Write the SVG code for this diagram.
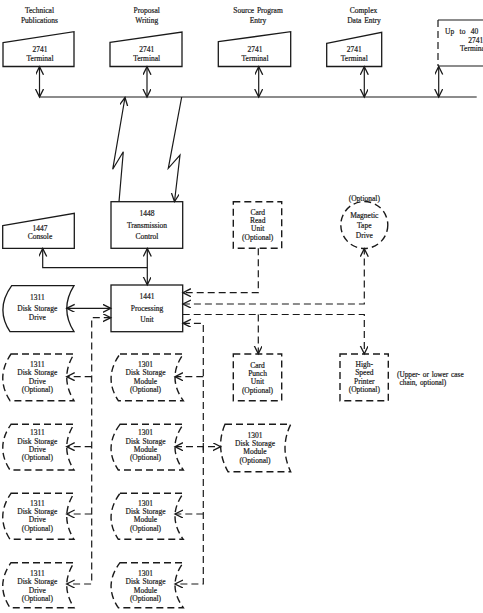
<svg xmlns="http://www.w3.org/2000/svg" width="483" height="613" viewBox="0 0 483 613">
<style>
.ln{stroke:#1a1a1a;stroke-width:1.2;fill:none}
.ds{stroke-dasharray:7 4}
.sh{fill:#fff;stroke:#1a1a1a;stroke-width:1.3}
.dsh{fill:#fff;stroke:#1a1a1a;stroke-width:1.4;stroke-dasharray:7 4}
text{font-family:"Liberation Serif","Times New Roman",serif;font-size:7.5px;fill:#1a1a1a;stroke:#1a1a1a;stroke-width:0.2;text-anchor:middle;word-spacing:1px}
.st{text-anchor:start}
</style>
<defs>
<marker id="ar" markerUnits="userSpaceOnUse" markerWidth="12" markerHeight="10" refX="8" refY="4" orient="auto-start-reverse">
<path d="M0,0 L8,4 L0,8" fill="none" stroke="#1a1a1a" stroke-width="1.3" stroke-dasharray="none"/>
</marker>
</defs>
<rect width="483" height="613" fill="#fff"/>

<g id="labels">
<text x="39.5" y="13">Technical</text><text x="39.5" y="23.3">Publications</text>
<text x="146.7" y="13">Proposal</text><text x="146.7" y="23.3">Writing</text>
<text x="258" y="13">Source Program</text><text x="258" y="23.3">Entry</text>
<text x="363.5" y="13">Complex</text><text x="364" y="23.3">Data Entry</text>
</g>

<g id="term1"><polygon class="sh" points="3,42.7 74,31.7 74,66.5 3,66.5"/><text x="40" y="52">2741</text><text x="40" y="61.3">Terminal</text></g>
<g id="term2"><polygon class="sh" points="110,42.3 182,32 182,66.5 110,66.5"/><text x="146.7" y="52">2741</text><text x="146.7" y="61.3">Terminal</text></g>
<g id="term3"><polygon class="sh" points="218.3,41.7 290.7,31.7 290.7,66.5 218.3,66.5"/><text x="255" y="52">2741</text><text x="255" y="61.3">Terminal</text></g>
<g id="term4"><polygon class="sh" points="326.7,43.3 381.7,32.3 381.7,66.5 326.7,66.5"/><text x="354.3" y="52">2741</text><text x="354.3" y="61.3">Terminal</text></g>
<g id="term5">
<path class="ln" d="M438,20 H483 M438,66 H483" stroke-width="1.3"/>
<path class="ln ds" d="M438,20 V66" stroke-width="1.3"/>
<text class="st" x="445" y="34.3" style="word-spacing:3.5px">Up to 40</text>
<text class="st" x="468.3" y="42.8">2741</text>
<text class="st" x="460" y="51.2">Terminal</text>
</g>

<g id="tc"><rect class="sh" x="111" y="201.7" width="71.7" height="46.6"/><text x="147" y="215.6">1448</text><text x="147" y="227.6">Transmission</text><text x="147" y="239.3">Control</text></g>
<g id="console"><polygon class="sh" points="2.7,225.7 74.3,213.3 74.3,248.3 2.7,248.3"/><text x="40" y="230.6">1447</text><text x="40" y="238.6">Console</text></g>
<g id="pu"><rect class="sh" x="111" y="285" width="71.7" height="46.7"/><text x="147" y="299.3">1441</text><text x="147" y="311">Processing</text><text x="147" y="322">Unit</text></g>
<g id="drive0"><path class="sh" d="M11.7,285.7 H74 Q59.5,308.7 74,331.7 H10 Q-5,308.7 11.7,285.7 Z"/><text x="37.3" y="300.3">1311</text><text x="37.3" y="311">Disk Storage</text><text x="37.3" y="320.3">Drive</text></g>

<g id="cardread"><rect class="dsh" x="233.3" y="201.7" width="48.4" height="46.6"/><text x="257.7" y="215">Card</text><text x="257.7" y="223.3">Read</text><text x="257.7" y="231.3">Unit</text><text x="257.7" y="240">(Optional)</text></g>
<g id="tape"><circle class="dsh" cx="364.3" cy="225" r="23.5"/><text x="364.3" y="201">(Optional)</text><text x="364.3" y="217.6">Magnetic</text><text x="364.3" y="227.6">Tape</text><text x="364.3" y="237.6">Drive</text></g>
<g id="cardpunch"><rect class="dsh" x="233.3" y="354" width="48.4" height="46.7"/><text x="257.5" y="367.6">Card</text><text x="257.5" y="376">Punch</text><text x="257.5" y="384.3">Unit</text><text x="257.5" y="392.6">(Optional)</text></g>
<g id="printer"><rect class="dsh" x="340" y="354" width="48.3" height="46.7"/><text x="364.3" y="367">High-</text><text x="364.3" y="375.3">Speed</text><text x="364.3" y="383.6">Printer</text><text x="364.3" y="392.3">(Optional)</text>
<text class="st" x="397" y="377" style="font-size:7.3px">(Upper- or lower case</text><text class="st" x="399.5" y="384.5" style="font-size:7.3px">chain, optional)</text></g>

<g id="drive1"><path class="dsh" d="M11,354 H74 Q59.5,377.4 74,400.7 H10 Q-5,377.4 11,354 Z"/><text x="37.3" y="366.9">1311</text><text x="37.3" y="375.3">Disk Storage</text><text x="37.3" y="383.6">Drive</text><text x="37.3" y="391.6">(Optional)</text></g>
<g id="drive2"><path class="dsh" d="M11,424.3 H74 Q59.5,447.2 74,470 H10 Q-5,447.2 11,424.3 Z"/><text x="37.3" y="435.3">1311</text><text x="37.3" y="443.6">Disk Storage</text><text x="37.3" y="451.9">Drive</text><text x="37.3" y="460.3">(Optional)</text></g>
<g id="drive3"><path class="dsh" d="M11,493.3 H74 Q59.5,516.3 74,539.3 H10 Q-5,516.3 11,493.3 Z"/><text x="37.3" y="505.9">1311</text><text x="37.3" y="513.9">Disk Storage</text><text x="37.3" y="522.3">Drive</text><text x="37.3" y="530.6">(Optional)</text></g>
<g id="drive4"><path class="dsh" d="M11,562.7 H74 Q59.5,585.2 74,607.7 H10 Q-5,585.2 11,562.7 Z"/><text x="37.3" y="575.9">1311</text><text x="37.3" y="584.3">Disk Storage</text><text x="37.3" y="592.6">Drive</text><text x="37.3" y="601.3">(Optional)</text></g>

<g id="module1"><path class="dsh" d="M120,354 H183.3 Q166.7,377.4 183.3,400.7 H118.3 Q103,377.4 120,354 Z"/><text x="145.5" y="366.9">1301</text><text x="145.5" y="375.3">Disk Storage</text><text x="145.5" y="383.6">Module</text><text x="145.5" y="391.6">(Optional)</text></g>
<g id="module2"><path class="dsh" d="M120,424.3 H183.3 Q166.7,447.2 183.3,470 H118.3 Q103,447.2 120,424.3 Z"/><text x="145.5" y="435.3">1301</text><text x="145.5" y="443.6">Disk Storage</text><text x="145.5" y="451.9">Module</text><text x="145.5" y="460.3">(Optional)</text></g>
<g id="module3"><path class="dsh" d="M120,493.3 H183.3 Q166.7,516.3 183.3,539.3 H118.3 Q103,516.3 120,493.3 Z"/><text x="145.5" y="505.9">1301</text><text x="145.5" y="513.9">Disk Storage</text><text x="145.5" y="522.3">Module</text><text x="145.5" y="530.6">(Optional)</text></g>
<g id="module4"><path class="dsh" d="M120,562.7 H183.3 Q166.7,585.2 183.3,607.7 H118.3 Q103,585.2 120,562.7 Z"/><text x="145.5" y="575.9">1301</text><text x="145.5" y="584.3">Disk Storage</text><text x="145.5" y="592.6">Module</text><text x="145.5" y="601.3">(Optional)</text></g>
<g id="module5"><path class="dsh" d="M225,424.3 H290.7 Q279.3,448 290.7,471.7 H228 Q214.9,448 225,424.3 Z"/><text x="255" y="437.6">1301</text><text x="255" y="445.9">Disk Storage</text><text x="255" y="454.3">Module</text><text x="255" y="462.6">(Optional)</text></g>

<g id="connectors">
<path class="ln" d="M39.5,97 H476.7"/>
<path class="ln" d="M39.5,97 V66.8" marker-start="url(#ar)" marker-end="url(#ar)"/>
<path class="ln" d="M147,97 V66.8" marker-start="url(#ar)" marker-end="url(#ar)"/>
<path class="ln" d="M258.7,97 V66.8" marker-start="url(#ar)" marker-end="url(#ar)"/>
<path class="ln" d="M364.3,97 V66.8" marker-start="url(#ar)" marker-end="url(#ar)"/>
<path class="ln" d="M438.7,97 V66.5" marker-start="url(#ar)" marker-end="url(#ar)"/>
<path class="ln" d="M119,201.7 L123.3,151.7 L112.7,169.3 L125,97.5" marker-end="url(#ar)"/>
<path class="ln" d="M181.7,97 L168.3,168.3 L180,155 L174.5,201.5" marker-end="url(#ar)"/>
<path class="ln" d="M147.3,267.7 H42.7 V248.5" marker-end="url(#ar)"/>
<path class="ln" d="M147.3,248.5 V284.8" marker-start="url(#ar)" marker-end="url(#ar)"/>
<path class="ln" d="M66.7,308.3 H110.8" marker-start="url(#ar)" marker-end="url(#ar)"/>
<path class="ln ds" d="M258.3,248.3 V292.7 H182.9" marker-end="url(#ar)"/>
<path class="ln ds" d="M182.9,304 H364.3 V248.7" marker-start="url(#ar)" marker-end="url(#ar)"/>
<path class="ln ds" d="M182.7,314.5 H364.3 V353.8" marker-end="url(#ar)"/>
<path class="ln ds" d="M258.3,314.5 V353.8" marker-end="url(#ar)"/>
<path class="ln ds" d="M182.9,323.3 H203.3 V584 H175" marker-start="url(#ar)" marker-end="url(#ar)"/>
<path class="ln ds" d="M203.3,376.7 H175" marker-end="url(#ar)"/>
<path class="ln ds" d="M175,446.7 H220.7" marker-start="url(#ar)" marker-end="url(#ar)"/>
<path class="ln" d="M203.3,443 V450.5"/>
<path class="ln ds" d="M203.3,514 H175" marker-end="url(#ar)"/>
<path class="ln ds" d="M110.8,317.7 H91.7 V584 H66.7" marker-start="url(#ar)" marker-end="url(#ar)"/>
<path class="ln ds" d="M91.7,376.7 H66.7" marker-end="url(#ar)"/>
<path class="ln ds" d="M91.7,446.7 H66.7" marker-end="url(#ar)"/>
<path class="ln ds" d="M91.7,514 H66.7" marker-end="url(#ar)"/>
</g>
</svg>
